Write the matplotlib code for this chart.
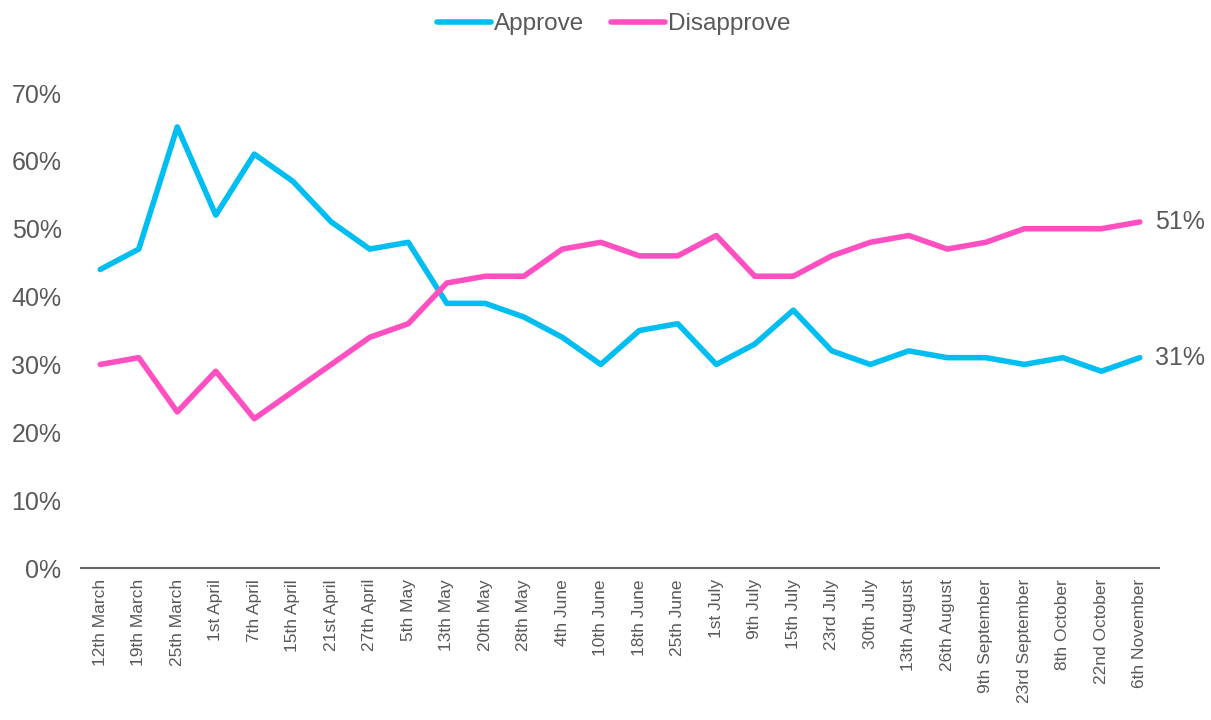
import numpy as np
from matplotlib import pyplot as plt
from matplotlib.ticker import PercentFormatter

plt.rcParams['font.family'] = ['Liberation Sans', 'DejaVu Sans']

dates = ['12th March', '19th March', '25th March', '1st April', '7th April',
         '15th April', '21st April', '27th April', '5th May', '13th May',
         '20th May', '28th May', '4th June', '10th June', '18th June',
         '25th June', '1st July', '9th July', '15th July', '23rd July',
         '30th July', '13th August', '26th August', '9th September',
         '23rd September', '8th October', '22nd October', '6th November']

approve = [44, 47, 65, 52, 61, 57, 51, 47, 48, 39, 39, 37, 34, 30, 35, 36,
           30, 33, 38, 32, 30, 32, 31, 31, 30, 31, 29, 31]
disapprove = [30, 31, 23, 29, 22, 26, 30, 34, 36, 42, 43, 43, 47, 48, 46, 46,
              49, 43, 43, 46, 48, 49, 47, 48, 50, 50, 50, 51]

grey = '#595959'
c_app = '#00BEF2'
c_dis = '#FF4FC1'

fig = plt.figure(figsize=(12.11, 7.2), dpi=100)
ax = fig.add_axes([0.0669, 0.2111, 0.8902, 0.6597])

x = np.arange(len(dates))
ax.plot(x, approve, color=c_app, lw=4, label='Approve', solid_capstyle='round')
ax.plot(x, disapprove, color=c_dis, lw=4, label='Disapprove', solid_capstyle='round')

# Endwerte beschriften
ax.annotate(f'{disapprove[-1]}%', (x[-1], disapprove[-1]), xytext=(11, 0),
            textcoords='offset points', va='center', ha='left', fontsize=18, color=grey)
ax.annotate(f'{approve[-1]}%', (x[-1], approve[-1]), xytext=(11, 0),
            textcoords='offset points', va='center', ha='left', fontsize=18, color=grey)

ax.set_xlim(-0.5, len(dates) - 0.5)
ax.set_ylim(0, 70)
ax.set_yticks(range(0, 71, 10))
ax.yaxis.set_major_formatter(PercentFormatter(decimals=0))
ax.set_xticks(x)
ax.set_xticklabels(dates, rotation=90, fontsize=12.5, color=grey)
ax.tick_params(axis='y', labelsize=18, labelcolor=grey, length=0, pad=14)
ax.tick_params(axis='x', length=0, pad=8)

for s in ['top', 'right', 'left']:
    ax.spines[s].set_visible(False)
ax.spines['bottom'].set_color('#636666')
ax.spines['bottom'].set_linewidth(1.5)

leg = fig.legend(loc='upper center', bbox_to_anchor=(0.507, 1.012), ncol=2, frameon=False,
                 fontsize=17.5, handlelength=2.2, handletextpad=0.15, columnspacing=1.1)
for t in leg.get_texts():
    t.set_color(grey)

fig.savefig('out.png', dpi=100)
